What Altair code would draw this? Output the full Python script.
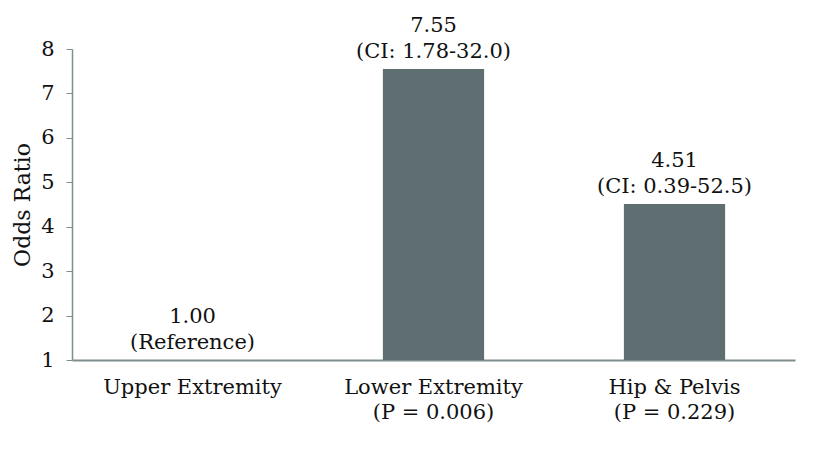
import altair as alt
import pandas as pd

categories = ["Upper Extremity", "Lower Extremity\n(P = 0.006)", "Hip & Pelvis\n(P = 0.229)"]
odds = [1.00, 7.55, 4.51]
value_labels = ["1.00", "7.55", "4.51"]
ci_labels = ["(Reference)", "(CI: 1.78-32.0)", "(CI: 0.39-52.5)"]
y_ticks = [1, 2, 3, 4, 5, 6, 7, 8]

df = pd.DataFrame({
    "cat": categories,
    "odds": odds,
    "base": [1] * len(odds),
    "value_label": value_labels,
    "ci_label": ci_labels,
})

FONT = "DejaVu Serif"
FS = 21
AXIS_COLOR = "#7f8e8e"
BAR_COLOR = "#5f6e70"
TXT = "#111111"

x = alt.X("cat:N", sort=categories, title=None,
          scale=alt.Scale(paddingInner=0.58, paddingOuter=0.29),
          axis=alt.Axis(labelAngle=0, ticks=False, labelPadding=16,
                        labelExpr="split(datum.label, '\\n')",
                        labelFont=FONT, labelFontSize=FS, labelColor=TXT,
                        domainColor=AXIS_COLOR, domainWidth=2,
                        labelLineHeight=25))
y_scale = alt.Scale(domain=[1, 8], zero=False, nice=False)

bars = alt.Chart(df).mark_bar(color=BAR_COLOR).encode(
    x=x,
    y=alt.Y("odds:Q", scale=y_scale, title="Odds Ratio",
            axis=alt.Axis(values=y_ticks, grid=False, tickSize=6,
                          tickColor=AXIS_COLOR, domainColor=AXIS_COLOR,
                          domainWidth=1.5, labelPadding=12,
                          labelFont=FONT, labelFontSize=FS, labelColor=TXT,
                          titleFont=FONT, titleFontSize=22, titleFontWeight="normal",
                          titleColor=TXT, titlePadding=6)),
    y2="base:Q",
)

ci_text = alt.Chart(df).mark_text(
    font=FONT, fontSize=FS, color=TXT, baseline="alphabetic", dy=-11,
).encode(
    x=alt.X("cat:N", sort=categories),
    y=alt.Y("odds:Q", scale=y_scale),
    text="ci_label:N",
)

val_text = alt.Chart(df).mark_text(
    font=FONT, fontSize=FS, color=TXT, baseline="alphabetic", dy=-37,
).encode(
    x=alt.X("cat:N", sort=categories),
    y=alt.Y("odds:Q", scale=y_scale),
    text="value_label:N",
)

chart = alt.layer(bars, ci_text, val_text).properties(
    width=723, height=311,
    autosize=alt.AutoSizeParams(type="none"),
    padding={"left": 64, "top": 41, "right": 16, "bottom": 100},
).configure(background="white").configure_view(stroke=None)

chart.save("out.html", embed_options={"renderer": "svg", "actions": False})
